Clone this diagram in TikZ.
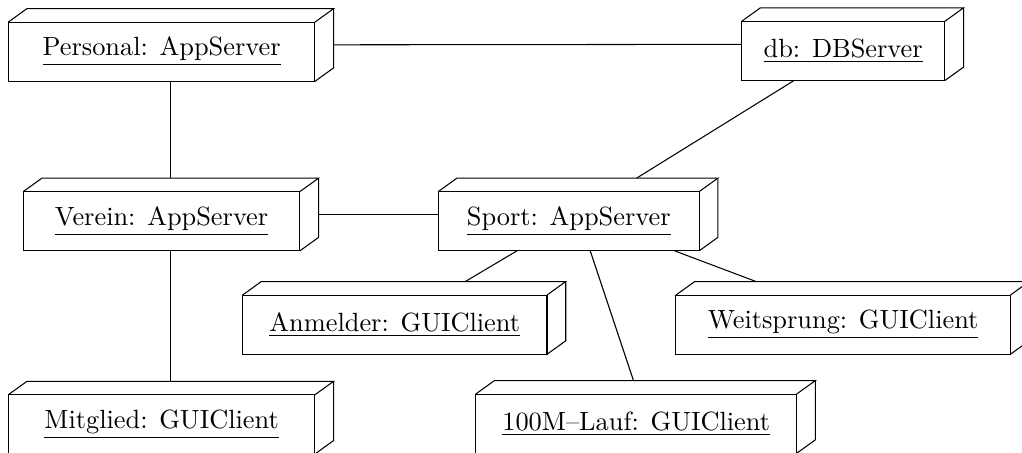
\documentclass[tikz,border=0pt]{standalone}
\usetikzlibrary{calc}

\tikzset{
  devbox/.style={rectangle, draw=none, inner sep=0pt, outer sep=0pt,
    minimum width=#1+0.25cm, minimum height=0.97cm},
  devtext/.style={xshift=-0.125cm, yshift=-0.09cm, inner sep=0pt},
}

\begin{document}
\begin{tikzpicture}
  \useasboundingbox (0,0) rectangle (13.63,-6.04);

  % Knoten
  \node[devbox=4.09cm, label={[devtext]center:\underline{Personal: AppServer}}] (personal) at (2.28,-0.60) {};
  \node[devbox=2.71cm, label={[devtext]center:\underline{db: DBServer}}] (db) at (11.37,-0.59) {};
  \node[devbox=3.69cm, label={[devtext]center:\underline{Verein: AppServer}}] (verein) at (2.28,-2.86) {};
  \node[devbox=3.48cm, label={[devtext]center:\underline{Sport: AppServer}}] (sport) at (7.71,-2.86) {};
  \node[devbox=4.06cm, label={[devtext]center:\underline{Anmelder: GUIClient}}] (anmelder) at (5.39,-4.24) {};
  \node[devbox=4.46cm, label={[devtext]center:\underline{Weitsprung: GUIClient}}] (weitsprung) at (11.37,-4.24) {};
  \node[devbox=4.09cm, label={[devtext]center:\underline{Mitglied: GUIClient}}] (mitglied) at (2.28,-5.57) {};
  \node[devbox=4.28cm, label={[devtext]center:\underline{100M--Lauf: GUIClient}}] (lauf) at (8.61,-5.56) {};

  % 3D-Kanten
  \foreach \n in {personal,db,verein,sport,anmelder,weitsprung,mitglied,lauf} {
    \draw (\n.south west) rectangle ([shift={(-0.25cm,-0.18cm)}]\n.north east);
    \draw ([yshift=-0.18cm]\n.north west) -- ([xshift=0.25cm]\n.north west) -- (\n.north east)
      -- ([shift={(-0.25cm,-0.18cm)}]\n.north east);
    \draw ([xshift=-0.25cm]\n.south east) -- ([yshift=0.18cm]\n.south east) -- (\n.north east);
  }

  % Verbindungen
  \draw (personal) -- (db);
  \draw (personal) -- (verein);
  \draw (verein) -- (sport);
  \draw (verein) -- (mitglied);
  \draw (db) -- (sport);
  \draw (sport) -- (anmelder);
  \draw (sport) -- (weitsprung);
  \draw (sport) -- (lauf);
\end{tikzpicture}
\end{document}
